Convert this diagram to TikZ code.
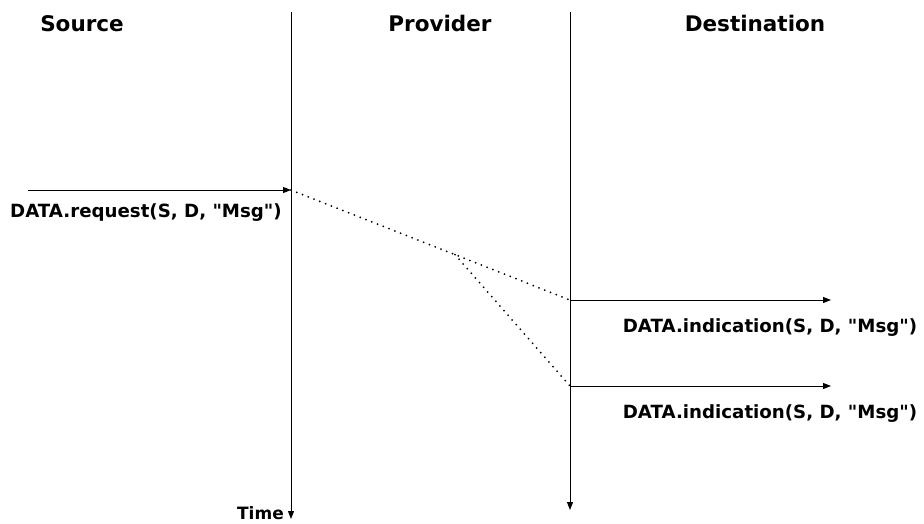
\documentclass[tikz,border=0pt]{standalone}
\usepackage{fontspec}
\setmainfont{DejaVu Sans}[Ligatures=TeXOff]
\usetikzlibrary{arrows.meta,calc}
\begin{document}
\begin{tikzpicture}[x=1pt,y=-1pt,
  lifeline/.style={line width=1pt,-{Triangle[length=8pt,width=6pt]}},
  msg/.style={line width=1pt,-{Triangle[length=8pt,width=6pt]}},
  flow/.style={line width=2pt,line cap=round,dash pattern=on 0pt off 6.2pt},
  header/.style={font=\bfseries\fontsize{21.5}{24}\selectfont,anchor=base,inner sep=0pt},
  lbl/.style={font=\bfseries\fontsize{18.2}{21}\selectfont,anchor=base,inner sep=0pt}]
\useasboundingbox (0,0) rectangle (924,523);
% headers
\node[header] (hsrc) at (82,31) {Source};
\node[header] (hprov) at (440,31) {Provider};
\node[header] (hdst) at (755,31) {Destination};
% lifelines
\coordinate (l1top) at (291,12);
\coordinate (l1bot) at (291,519);
\coordinate (l2top) at (570,12);
\coordinate (l2bot) at (570,510);
\draw[lifeline] (l1top) -- (l1bot);
\draw[lifeline] (l2top) -- (l2bot);
\node[font=\bfseries\fontsize{17}{20}\selectfont,anchor=base east,inner sep=0pt] (time) at (284,519) {Time};
% request
\coordinate (reqstart) at (28,190);
\coordinate (reqend) at (291,190);
\draw[msg] (reqstart) -- (reqend);
\node[lbl] (req) at (146,217) {DATA.request(S, D, "Msg")};
% provider flows
\coordinate (d1) at (570,300);
\coordinate (d2) at (570,386);
\coordinate (split) at ($(reqend)!0.588!(d1)$);
\draw[flow] (reqend) -- (d1);
\draw[flow] (split) -- (d2);
% indications
\coordinate (i1) at (831,300);
\coordinate (i2) at (831,386);
\draw[msg] (d1) -- (i1);
\draw[msg] (d2) -- (i2);
\node[lbl] (ind1) at (770,332) {DATA.indication(S, D, "Msg")};
\node[lbl] (ind2) at (770,418) {DATA.indication(S, D, "Msg")};
\end{tikzpicture}
\end{document}
